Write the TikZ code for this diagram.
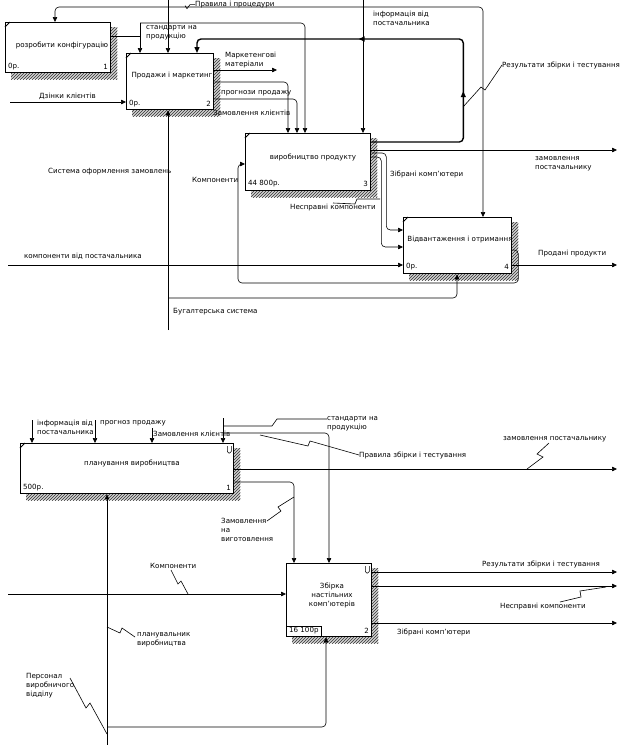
\documentclass[tikz,border=0pt]{standalone}
\usepackage{fontspec}
\setmainfont{DejaVu Sans}
\usetikzlibrary{arrows.meta,calc,patterns,backgrounds,decorations.markings}
\begin{document}
\begin{tikzpicture}[x=1pt,y=-1pt,
  font=\fontsize{7.1}{9}\selectfont,
  box/.style={draw,line width=1.3pt,fill=white,anchor=north west,inner sep=0pt},
  txt/.style={inner sep=0pt,anchor=west},
  ctxt/.style={inner sep=0pt,anchor=center,align=center},
  mtxt/.style={inner sep=0pt,anchor=north west,align=left},
  ln/.style={line width=0.6pt},
  arr/.style={ln,-{Triangle[length=5pt,width=4.5pt]}},
  rc/.style={rounded corners=4pt},
  shadebg/.style={fill=black!18},
  shade/.style={pattern=north east lines,pattern color=black!80},
  notch/.style={line width=1pt},
]
\useasboundingbox (0,0) rectangle (623,745);

% ===================== TOP DIAGRAM =====================
\node[box,minimum width=105pt,minimum height=50pt] (b1) at (5,22) {};
\node[ctxt] (t1) at (62,45) {розробити конфігурацію};
\node[txt] (c1) at (8,67) {0р.};
\node[txt,anchor=east] (n1) at (108,67) {1};

\node[box,minimum width=87pt,minimum height=56pt] (b2) at (126,53) {};
\node[ctxt] (t2) at (172,76) {Продажи і маркетинг};
\node[txt] (c2) at (129,104) {0р.};
\node[txt,anchor=east] (n2) at (211,104) {2};

\node[box,minimum width=125pt,minimum height=57pt] (b3) at (245,133) {};
\node[ctxt] (t3) at (313,157) {виробництво продукту};
\node[txt] (c3) at (248,184) {44 800р.};
\node[txt,anchor=east] (n3) at (368,184) {3};

\node[box,minimum width=108pt,minimum height=56pt] (b4) at (403,217) {};
\node[ctxt] (t4) at (460,240) {Відвантаження і отримання};
\node[txt] (c4) at (406,267) {0р.};
\node[txt,anchor=east] (n4) at (509,267) {4};

% ===================== BOTTOM DIAGRAM =====================
\node[box,minimum width=213pt,minimum height=50pt] (bA) at (20,443) {};
\node[ctxt] (tA) at (132,463) {планування виробництва};
\node[txt] (cA) at (23,488) {500р.};
\node[txt,anchor=east] (nA) at (231,488) {1};

\node[box,minimum width=85pt,minimum height=73pt] (bB) at (286,563) {};
\node[ctxt] (tB) at (332,595) {Збірка\\настільних\\комп'ютерів};
\node[txt] (cB) at (289,631) {16 100р};
\node[txt,anchor=east] (nB) at (369,631) {2};
\draw[ln] ($(bB.south west)+(0,-11)$) -- ($(bB.south west)+(35,-11)$) -- ($(bB.south west)+(35,0)$);

% shadows and notches
\begin{scope}[on background layer]
\foreach \b in {b1,b2,b3,b4,bA,bB}{
  \fill[shadebg] ([shift={(6,5)}]\b.north west) rectangle ([shift={(6,6)}]\b.south east);
  \fill[shade] ([shift={(6,5)}]\b.north west) rectangle ([shift={(6,6)}]\b.south east);}
\end{scope}
\foreach \b in {b1,b2,b3,b4,bA}
  \draw[notch] ([yshift=-5pt]\b.north west) -- ([xshift=5pt]\b.north west);
\foreach \b in {bA,bB}
  \draw[ln,rounded corners=1.5pt] ([shift={(-7,3)}]\b.north east) -- ++(0,7) -- ++(4,0) -- ++(0,-7);

% ---------- top connectors ----------
% Правила і процедури
\coordinate (prt) at (168,0);
\coordinate (prj) at (168,7);
\draw[arr] (prt) -- (prt |- b2.north);
\draw[arr,rc] (prj) -| ($(b1.north west)+(50,0)$);
\draw[arr,rc] (prj) -| ($(b4.north west)+(80,0)$);
\node[txt] (prl) at (195,4.6) {Правила і процедури};
\draw[ln] (prl.west) -- ++(-5,0) -- ++(-3,4) -- ++(-2,-3);

% стандарти на продукцію
\coordinate (stj) at (140,36);
\coordinate (stc) at (140,23);
\draw[ln,rc] ($(b1.north east)+(0,14)$) -- (stj);
\draw[arr,rc] (stc) -- ($(b2.north west)+(14,0)$);
\draw[arr,rc] (stc) -| ($(b3.north west)+(60,0)$);
\node[mtxt] (stl) at (146,25) {стандарти на\\продукцію};

% Результати збірки і тестування (thick feedback)
\draw[line width=1.4pt,rounded corners=4pt,-{Triangle[length=6pt,width=5pt]},
  postaction={decorate},
  decoration={markings,
    mark=at position 0.30 with {\arrow{Triangle[length=6pt,width=5pt]}},
    mark=at position 0.63 with {\arrow{Triangle[length=6pt,width=5pt]}}}]
  ($(b3.north east)+(0,9)$) -- ++(92,0) -- ++(0,-103) -| ($(b2.north west)+(71,0)$);
\node[txt] (rzl) at (502,65) {Результати збірки і тестування};
\draw[ln] (463,107) -- (481,87) -- (485,90) -- (rzl.west);

% інформація від постачальника
\coordinate (inf) at (363,0);
\draw[arr] (inf) -- (inf |- b3.north);
\node[mtxt] (infl) at (373,11) {інформація від\\постачальника};

% outputs of box 2
\coordinate (mm) at (277,70);
\draw[arr] (mm -| b2.east) -- (mm);
\node[mtxt] (mml) at (225,52) {Маркетенгові\\матеріали};
\draw[arr,rc] ($(b2.north east)+(0,29)$) -| ($(b3.north west)+(43,0)$);
\draw[arr,rc] ($(b2.north east)+(0,46)$) -| ($(b3.north west)+(52,0)$);
\node[txt] (ppl) at (221,93) {прогнози продажу};
\node[txt] (zkl) at (213,113) {Замовлення клієнтів};

% inputs / mechanisms
\coordinate (dz) at (10,102);
\draw[arr] (dz) -- (dz -| b2.west);
\node[txt] (dzl) at (39,96) {Дзінки клієнтів};

\coordinate (so) at (168,330);
\draw[arr] (so) -- (so |- b2.south);
\node[txt] (sol) at (48,172) {Система оформлення замовлень};

\coordinate (bug) at (168,298);
\draw[arr,rc] (bug) -| ($(b4.south west)+(54,0)$);
\node[txt] (bugl) at (173,312) {Бугалтерська система};

\coordinate (kp) at (8,265);
\draw[arr] (kp) -- (kp -| b4.west);
\node[txt] (kpl) at (24,256) {компоненти від постачальника};

% Компоненти loop
\draw[arr,rc] ($(b4.north east)+(0,33)$) -- ++(6,0) -- ++(0,33) -| ($(b3.north west)+(-7,31)$) -- ($(b3.north west)+(0,31)$);
\node[txt] (kml) at (192,180) {Компоненти};

% outputs of box 3
\coordinate (zp1) at (617,150);
\draw[arr] ($(b3.north east)+(0,17)$) -- (zp1);
\node[mtxt] (zp1l) at (535,156) {замовлення\\постачальнику};
\draw[arr,rc] ($(b3.north east)+(0,20)$) -- ++(15,0) |- ($(b4.north west)+(0,13)$);
\node[txt] (zbl) at (390,174) {Зібрані комп'ютери};
\draw[arr,rc] ($(b3.north east)+(0,24)$) -- ++(10,0) |- ($(b4.north west)+(0,30)$);
\node[txt] (nsl) at (290,208) {Несправні компоненти};
\draw[ln] (380,199) -- (357,199) -- (355,204) -- (333,203);

% output of box 4
\coordinate (pp) at (617,265);
\draw[arr] (pp -| b4.east) -- (pp);
\node[txt] (ppr) at (538,254) {Продані продукти};

% ---------- bottom connectors ----------
\coordinate (ia) at (32,420);
\draw[arr] (ia) -- (ia |- bA.north);
\node[mtxt] (ial) at (37,420) {інформація від\\постачальника};

\coordinate (pg) at (95,420);
\draw[arr] (pg) -- (pg |- bA.north);
\node[txt] (pgl) at (100,423) {прогноз продажу};

\coordinate (zk) at (152,428);
\draw[arr] (zk) -- (zk |- bA.north);
\node[txt] (zkbl) at (153,434) {Замовлення клієнтів};

\coordinate (sc) at (223,418);
\draw[arr] (sc) -- (sc |- bA.north);
\coordinate (br) at (223,433);
\draw[arr,rc] (br) -| ($(bB.north west)+(43,0)$);
\node[mtxt] (scl) at (327,416) {стандарти на\\продукцію};
\draw[ln] (223,426) -- (272,426) -- (277,419) -- (scl.west |- 0,419);
\node[txt] (prbl) at (359,455) {Правила збірки і тестування};
\draw[ln] (260,435) -- (308,446) -- (310,441) -- (prbl.west);

% outputs of box A
\coordinate (zp2) at (617,469);
\draw[arr] (zp2 -| bA.east) -- (zp2);
\node[txt] (zp2l) at (503,439) {замовлення постачальнику};
\draw[ln] (527,469) -- (543,457) -- (537,454) -- (549,443);

\draw[arr,rc] ($(bA.north east)+(0,39)$) -| ($(bB.north west)+(8,0)$);
\node[mtxt] (zvl) at (221,518) {Замовлення\\на\\виготовлення};
\draw[ln] (267,521) -- (281,511) -- (278,507) -- (294,497);

% mechanisms
\coordinate (pv) at (107,745);
\draw[arr] (pv) -- (pv |- bA.south);
\node[mtxt] (pvl) at (137,632) {планувальник\\виробництва};
\draw[ln] (107,627) -- (120,633) -- (122,628) -- (135,637);

\coordinate (pm) at (107,727);
\draw[arr,rc] (pm) -| ($(bB.south west)+(40,0)$);
\node[mtxt] (pml) at (26,673) {Персонал\\виробничого\\відділу};
\draw[ln] (70,678) -- (86,708) -- (90,703) -- (107,734);

% input of box B
\coordinate (kB) at (8,594);
\draw[arr] (kB) -- (kB -| bB.west);
\node[txt] (kBl) at (150,566) {Компоненти};
\draw[ln] (188,594) -- (181,581) -- (178,584) -- (171,570);

% outputs of box B
\coordinate (rz2) at (617,572);
\draw[arr] (rz2 -| bB.east) -- (rz2);
\node[txt] (rz2l) at (482,564) {Результати збірки і тестування};

\coordinate (ns2) at (617,586);
\draw[arr] (ns2 -| bB.east) -- (ns2);
\node[txt] (ns2l) at (500,607) {Несправні компоненти};
\draw[ln] (606,587) -- (580,591) -- (581,597) -- (560,602);

\coordinate (zb2) at (617,623);
\draw[arr] (zb2 -| bB.east) -- (zb2);
\node[txt] (zb2l) at (397,632) {Зібрані комп'ютери};
\end{tikzpicture}
\end{document}
